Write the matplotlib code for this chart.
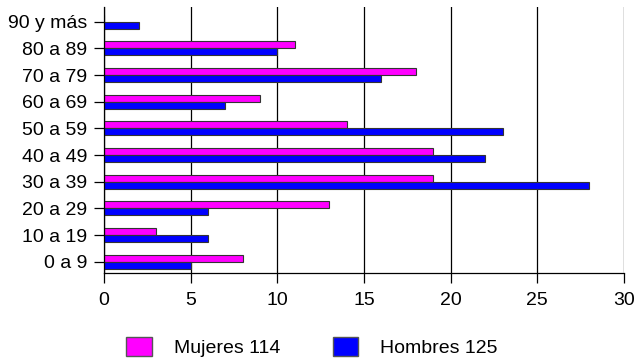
import matplotlib
matplotlib.use("Agg")
import matplotlib.pyplot as plt
import numpy as np
from matplotlib.patches import Patch

plt.rcParams["font.family"] = ["Liberation Sans", "DejaVu Sans"]

# ── Data ──────────────────────────────────────────────────────────────────────
grupos  = ["0 a 9", "10 a 19", "20 a 29", "30 a 39", "40 a 49",
           "50 a 59", "60 a 69", "70 a 79", "80 a 89", "90 y más"]
mujeres = [8, 3, 13, 19, 19, 14, 9, 18, 11, 0]
hombres = [5, 6, 6, 28, 22, 23, 7, 16, 10, 2]
label_m = "Mujeres 114"
label_h = "Hombres 125"
xticks  = [0, 5, 10, 15, 20, 25, 30]
# ─────────────────────────────────────────────────────────────────────────────

fig = plt.figure(figsize=(6.37, 3.63), dpi=100)
ax = fig.add_axes([104/637, 90/363, 520/637, 266/363])

y = np.arange(len(grupos))
h = 0.26
ax.barh(y + h/2, mujeres, height=h, color="#ff00ff", edgecolor="#333333", linewidth=0.8)
ax.barh(y - h/2, hombres, height=h, color="#0000ff", edgecolor="#333333", linewidth=0.8)

ax.set_xlim(0, 30)
ax.set_ylim(-0.42, 9.55)
ax.set_xticks(xticks)
ax.set_yticks(y)
ax.set_yticklabels(grupos)
ax.xaxis.grid(True, color="black", linewidth=0.9)
ax.set_axisbelow(True)

for s in ["top", "right"]:
    ax.spines[s].set_visible(False)
ax.spines["left"].set_linewidth(0.9)
ax.spines["bottom"].set_linewidth(0.9)
ax.tick_params(axis="both", labelsize=14, length=7, width=0.9, color="black")
ax.tick_params(axis="x", pad=7)
ax.tick_params(axis="y", pad=5)

handles = [Patch(facecolor="#ff00ff", edgecolor="#555555", label=label_m),
           Patch(facecolor="#0000ff", edgecolor="#555555", label=label_h)]
fig.legend(handles=handles, loc="center", bbox_to_anchor=(0.49, 0.044), ncol=2,
           frameon=False, fontsize=14, handlelength=1.3, handleheight=1.15,
           handletextpad=1.15, columnspacing=2.7)

fig.savefig("out.png", dpi=100)
